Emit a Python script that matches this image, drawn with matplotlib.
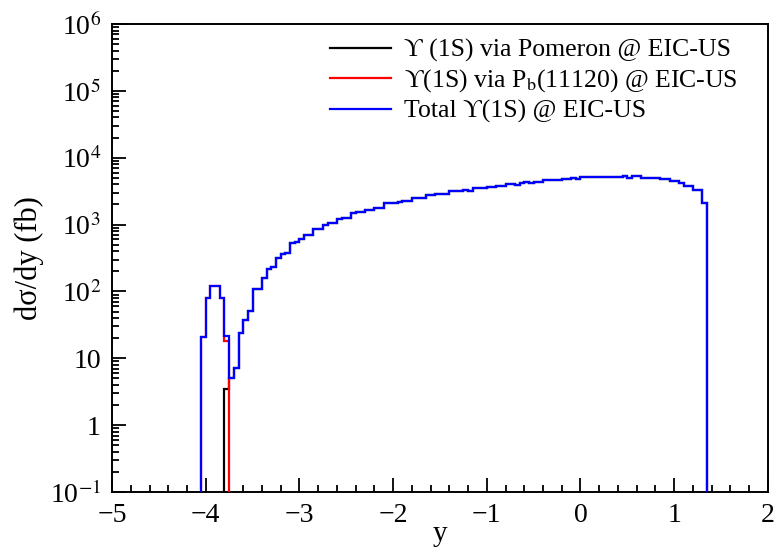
#Upsilon(1S) rapidity distribution at EIC-US
import numpy as np
import matplotlib
matplotlib.use("Agg")
import matplotlib.pyplot as plt
from matplotlib.ticker import FixedLocator, FuncFormatter, NullFormatter

plt.rcParams['font.family'] = ['Liberation Serif', 'DejaVu Serif']
plt.rcParams['mathtext.fontset'] = 'stix'

# binning: 0.05 wide bins in rapidity
bin_width = 0.05
y_first = -4.05

# Pb(11120) contribution, bins from -4.05 to -3.75
pb = [21, 79, 120, 120, 79, 18]

# Pomeron contribution, bins from -3.80 to 1.35
pomeron = [3.5, 5.1, 7.2, 24, 37, 51, 109, 109,
           158, 219, 230, 313, 360, 372, 525, 540, 604, 690,
           690, 870, 870, 980, 1070, 1070, 1200, 1260, 1260, 1480,
           1520, 1520, 1650, 1650, 1780, 1780, 2090, 2090, 2090, 2190,
           2290, 2290, 2520, 2520, 2520, 2750, 2750, 2880, 2880, 2880,
           3170, 3170, 3170, 3320, 3170, 3470, 3470, 3470, 3640, 3640,
           3820, 3820, 4090, 4000, 3960, 4150, 4340, 4150, 4340, 4340,
           4600, 4600, 4600, 4600, 4760, 4760, 5030, 4760,
           5150, 5150, 5150, 5150, 5150, 5150, 5150, 5150, 5150,
           5370, 5030, 5370, 5370, 5030, 5030, 5030, 5030,
           4760, 4760, 4530, 4530, 4150, 3780, 3780, 3320, 3320, 2140]

pb_start = 0        # first bin index of pb
pomeron_start = 5   # first bin index of pomeron

n_bins = pomeron_start + len(pomeron)
edges = np.round(y_first + bin_width * np.arange(n_bins + 1), 2)

pb_full = np.zeros(n_bins)
pb_full[pb_start:pb_start + len(pb)] = pb
pom_full = np.zeros(n_bins)
pom_full[pomeron_start:] = pomeron
total = pb_full + pom_full

floor = 1e-3

fig = plt.figure(figsize=(7.78, 5.55), dpi=100)
ax = fig.add_axes([0.144, 0.1135, 0.843, 0.8432])

ax.stairs(pomeron, edges[pomeron_start:], baseline=floor, color="black", lw=1.6,
          label=r"ϒ (1S) via Pomeron @ EIC-US", zorder=2)
ax.stairs(pb, edges[pb_start:pb_start + len(pb) + 1], baseline=floor, color="red", lw=1.6,
          label=r"ϒ(1S) via P$_{\mathrm{b}}$(11120) @ EIC-US", zorder=3)
ax.stairs(total, edges, baseline=floor, color="blue", lw=1.6,
          label=r"Total ϒ(1S) @ EIC-US", zorder=4)

ax.set_yscale("log")
ax.set_xlim(-5, 2)
ax.set_ylim(0.1, 1e6)

ax.xaxis.set_major_locator(FixedLocator(np.arange(-5, 3, 1)))
ax.xaxis.set_minor_locator(FixedLocator(np.arange(-5, 2.01, 0.2)))
ax.xaxis.set_major_formatter(FuncFormatter(lambda v, p: "%d" % v if v >= 0 else "\u2212%d" % -v))
ax.xaxis.set_minor_formatter(NullFormatter())


def ylab(v, pos):
    e = int(round(np.log10(v)))
    if e == 0:
        return "1"
    if e == 1:
        return "10"
    return r"10$^{%d}$" % e if e > 0 else r"10$^{\mathrm{-%d}}$" % -e


ax.yaxis.set_major_formatter(FuncFormatter(ylab))
ax.yaxis.set_minor_formatter(NullFormatter())
ax.tick_params(which="both", direction="in", top=False, right=False, labelsize=20, width=1.3)
ax.tick_params(which="major", length=10, pad=8)
ax.tick_params(which="minor", length=5)
for s in ax.spines.values():
    s.set_linewidth(1.4)

ax.set_xlabel("y", fontsize=21, labelpad=-5)
ax.set_ylabel("d\u03c3/dy (fb)", fontsize=22, labelpad=4)

ax.legend(loc="upper left", bbox_to_anchor=(0.332, 0.968), frameon=False, fontsize=18.5,
          handlelength=2.4, handletextpad=0.5, labelspacing=0.2, borderpad=0, borderaxespad=0)

fig.savefig("out.png", dpi=100)
